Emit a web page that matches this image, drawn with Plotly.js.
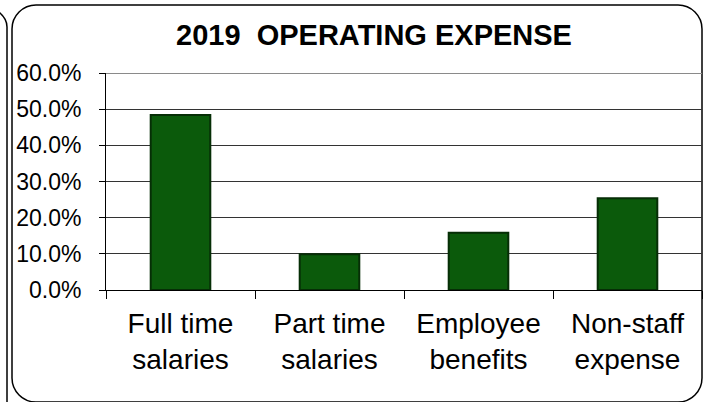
<!DOCTYPE html>
<html>
<head>
<meta charset="utf-8">
<script src="https://cdn.plot.ly/plotly-3.0.1.min.js"></script>
<style>
  html, body { margin: 0; padding: 0; background: #fff; }
  #chart { width: 708px; height: 402px; }
</style>
</head>
<body>
<div id="chart"></div>
<script>
// Data
const categories = ["Full time<br>salaries", "Part time<br>salaries", "Employee<br>benefits", "Non-staff<br>expense"];
const shares = [0.484, 0.099, 0.158, 0.254];
const chartTitle = "2019  OPERATING EXPENSE";

// Layout geometry (pixels)
const W = 708, H = 402;
const mL = 106, mR = 6, mT = 73, mB = 112;
const plotW = W - mL - mR, plotH = H - mT - mB;
function px(x) { return (x - mL) / plotW; }
function py(y) { return (H - mB - y) / plotH; }

function roundRectPath(x0, y0, x1, y1, r) {
  const k = 0.55 * r;
  return [
    'M', px(x0 + r), py(y0),
    'L', px(x1 - r), py(y0),
    'C', px(x1 - r + k), py(y0), px(x1), py(y0 + r - k), px(x1), py(y0 + r),
    'L', px(x1), py(y1 - r),
    'C', px(x1), py(y1 - r + k), px(x1 - r + k), py(y1), px(x1 - r), py(y1),
    'L', px(x0 + r), py(y1),
    'C', px(x0 + r - k), py(y1), px(x0), py(y1 - r + k), px(x0), py(y1 - r),
    'L', px(x0), py(y0 + r),
    'C', px(x0), py(y0 + r - k), px(x0 + r - k), py(y0), px(x0 + r), py(y0),
    'Z'
  ].join(' ');
}
// Neighbouring chart's right edge (partially visible on the left)
function neighbourPath() {
  const r = 22, k = 0.55 * r;
  return [
    'M', px(-20), py(5),
    'C', px(-20 + k), py(5), px(7), py(5 + r - k), px(7), py(5 + r),
    'L', px(7), py(H + 5)
  ].join(' ');
}

const trace = {
  type: 'bar',
  x: categories,
  y: shares,
  marker: {
    color: '#0b5a0b',
    line: { color: '#062e06', width: 2 }
  },
  hoverinfo: 'skip'
};

const layout = {
  width: W,
  height: H,
  margin: { l: mL, r: mR, t: mT, b: mB, pad: 0 },
  paper_bgcolor: '#ffffff',
  plot_bgcolor: '#ffffff',
  showlegend: false,
  bargap: 0.6,
  title: {
    text: '<b>' + chartTitle + '</b>',
    font: { family: 'Liberation Sans, Arial, sans-serif', size: 29, color: '#000' },
    x: 374 / W, xref: 'container', xanchor: 'center',
    y: 1 - 35 / H, yref: 'container', yanchor: 'middle'
  },
  font: { family: 'Liberation Sans, Arial, sans-serif', color: '#000' },
  xaxis: {
    type: 'category',
    showgrid: false,
    showline: true,
    linecolor: '#000',
    linewidth: 1,
    ticks: 'outside',
    tickson: 'boundaries',
    ticklen: 8,
    tickcolor: '#000',
    tickfont: { size: 28, color: '#000' },
    ticklabelstandoff: 8,
    zeroline: false,
    fixedrange: true
  },
  yaxis: {
    range: [0, 0.6],
    dtick: 0.1,
    tick0: 0,
    tickformat: '.1%',
    showgrid: true,
    gridcolor: '#333333',
    gridwidth: 1,
    showline: true,
    linecolor: '#000',
    linewidth: 1,
    ticks: 'outside',
    ticklen: 6,
    tickcolor: '#000',
    tickfont: { size: 23, color: '#000' },
    ticklabelstandoff: 13,
    zeroline: false,
    fixedrange: true
  },
  shapes: [
    {
      type: 'path', xref: 'paper', yref: 'paper', layer: 'below',
      path: roundRectPath(12, 5, 702, 402, 24),
      line: { color: '#000', width: 1.5 }, fillcolor: 'rgba(0,0,0,0)'
    },
    {
      type: 'path', xref: 'paper', yref: 'paper', layer: 'below',
      path: neighbourPath(),
      line: { color: '#000', width: 1.5 }
    },
    {
      type: 'line', xref: 'paper', yref: 'y', layer: 'below',
      x0: 0, x1: 1, y0: 0.6, y1: 0.6,
      line: { color: '#8a8a8a', width: 2 }
    }
  ]
};

Plotly.newPlot('chart', [trace], layout, { displayModeBar: false, staticPlot: true });
</script>
</body>
</html>
